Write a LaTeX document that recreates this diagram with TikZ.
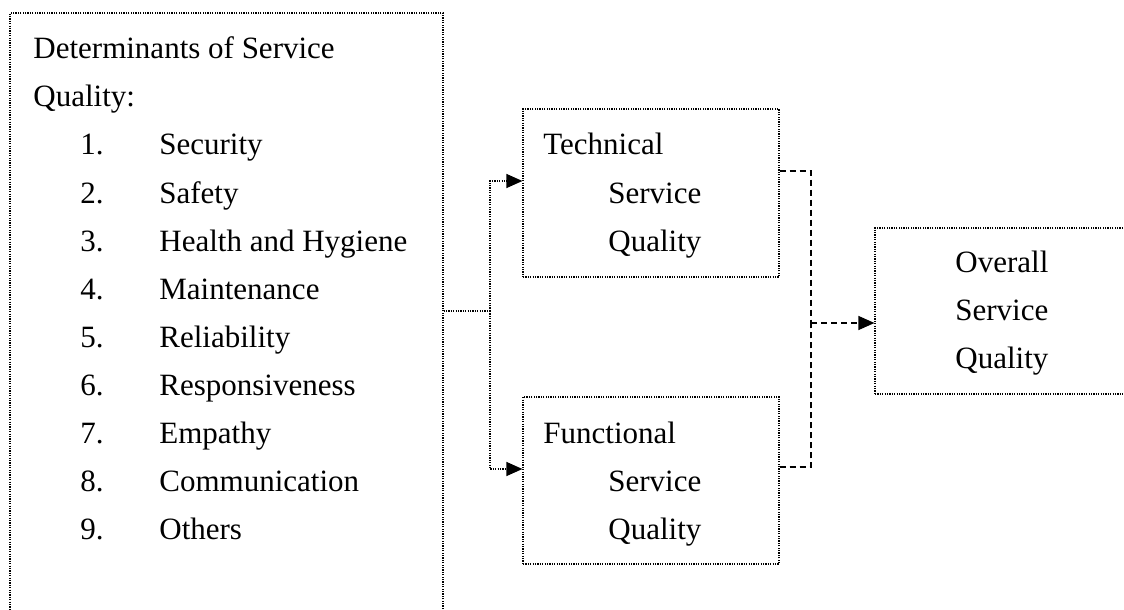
\documentclass[tikz,border=0pt]{standalone}
\usepackage{fontspec}
\setmainfont{Liberation Serif}
\usetikzlibrary{arrows.meta,fit}
\begin{document}
\begin{tikzpicture}[x=0.5pt,y=-0.5pt,
  box/.style={draw, line width=0.6pt, dash pattern=on 0.6pt off 0.6pt, inner sep=0pt},
  dotline/.style={line width=0.6pt, dash pattern=on 0.6pt off 0.6pt},
  dashline/.style={line width=0.7pt, dash pattern=on 3pt off 2pt},
  tip/.style={-{Triangle[length=8pt,width=7pt]}},
  txt/.style={anchor=base west, inner sep=0pt, font=\fontsize{15.5pt}{18pt}\selectfont}]
\clip (0,0) rectangle (1124,610);
\fill[white] (0,0) rectangle (1124,610);

% boxes
\node[box, fit={(10,13)(443,680)}] (det) {};
\node[box, fit={(523,109)(779,277)}] (tech) {};
\node[box, fit={(523,397)(779,564)}] (func) {};
\node[box, fit={(875,228)(1180,394)}] (over) {};

% determinants list
\node[txt] (h1) at (33,59) {Determinants of Service};
\node[txt] (h2) at (33,106) {Quality:};
\foreach \n/\t [count=\i] in {1/Security,2/Safety,3/Health and Hygiene,4/Maintenance,5/Reliability,6/Responsiveness,7/Empathy,8/Communication,9/Others}{
  \node[txt] (num\i) at (80,107+48*\i) {\n.};
  \node[txt] (item\i) at (159,107+48*\i) {\t};
}

% quality boxes text
\node[txt] (t1) at (543,155) {Technical};
\node[txt] (t2) at (608,203) {Service};
\node[txt] (t3) at (608,251) {Quality};
\node[txt] (f1) at (543,443) {Functional};
\node[txt] (f2) at (608,491) {Service};
\node[txt] (f3) at (608,539) {Quality};
\node[txt] (o1) at (955,272) {Overall};
\node[txt] (o2) at (955,320) {Service};
\node[txt] (o3) at (955,368) {Quality};

% dotted connectors from the determinants
\coordinate (split) at (490,311);
\coordinate (tin) at (0,181);
\coordinate (fin) at (0,469);
\draw[dotline] (det.east |- split) -- (split);
\draw[dotline, tip] (split) |- (tech.west |- tin);
\draw[dotline, tip] (split) |- (func.west |- fin);

% dashed connectors to overall quality
\coordinate (join) at (811,323);
\coordinate (tout) at (0,171);
\coordinate (fout) at (0,467);
\draw[dashline] (tech.east |- tout) -| (join);
\draw[dashline] (func.east |- fout) -| (join);
\draw[dashline, tip] (join) -- (over.west |- join);
\end{tikzpicture}
\end{document}
